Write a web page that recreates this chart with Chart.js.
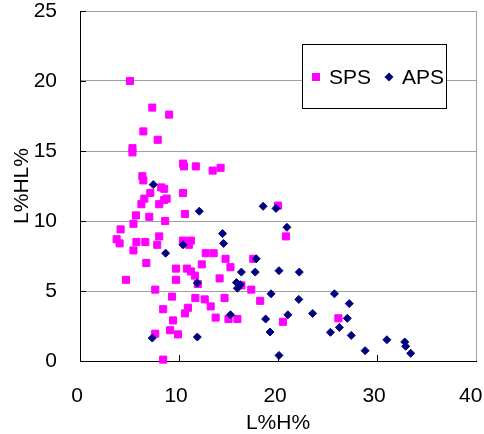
<!DOCTYPE html>
<html><head><meta charset="utf-8">
<script src="https://cdn.jsdelivr.net/npm/chart.js@4/dist/chart.umd.min.js"></script>
<style>html,body{margin:0;padding:0;background:#fff}#wrap{width:484px;height:434px}</style>
</head><body><div id="wrap"><canvas id="c" width="484" height="434"></canvas></div>
<script>
const seriesNames = ["SPS", "APS"];
const spsX = [5.05,7.3,9.0,6.4,7.85,5.3,5.3,10.4,10.5,11.7,13.4,14.2,6.3,6.4,8.2,8.5,7.1,6.5,6.2,8.0,8.5,8.75,10.4,5.65,5.4,7.0,8.6,10.6,4.1,3.7,4.0,5.7,6.6,7.8,8.0,10.4,11.2,11.0,5.4,6.7,12.7,13.5,14.7,17.5,9.7,9.7,10.8,11.2,11.6,12.3,15.2,14.1,11.9,16.3,17.3,4.65,7.6,9.3,11.65,12.6,14.6,18.2,8.4,10.9,10.6,13.2,9.4,13.7,15.0,15.9,20.5,26.1,7.6,9.1,9.9,8.4,20.0,20.8];
const spsY = [20.0,18.1,17.6,16.4,15.8,15.2,14.9,14.1,13.9,13.9,13.6,13.8,13.2,12.9,12.4,12.3,12.0,11.6,11.2,11.2,11.5,11.6,12.0,10.4,9.8,10.3,10.0,10.5,9.4,8.7,8.4,8.5,8.5,8.3,8.9,8.6,8.6,8.3,7.9,7.0,7.7,7.7,7.3,7.3,6.6,5.8,6.6,6.4,6.1,6.9,6.7,5.9,5.5,5.4,5.1,5.8,5.1,4.6,4.5,4.4,4.5,4.3,3.7,3.8,3.4,3.9,2.9,3.1,3.0,3.0,2.8,3.05,1.95,2.2,1.9,0.1,11.1,8.9];
const apsX = [7.4,12.05,18.5,19.8,20.9,14.4,14.5,10.4,8.65,17.8,16.3,17.7,20.1,22.15,11.85,15.8,15.9,16.2,19.3,25.7,22.1,27.2,15.2,21.0,23.5,18.75,27.0,26.2,19.2,25.3,27.4,7.3,11.85,31.0,32.8,32.9,33.4,28.8,20.1];
const apsY = [12.6,10.7,11.05,10.9,9.55,9.1,8.4,8.3,7.7,7.3,6.35,6.35,6.45,6.35,5.57,5.6,5.2,5.45,4.8,4.8,4.4,4.1,3.3,3.3,3.4,3.0,3.05,2.4,2.07,2.05,1.83,1.64,1.71,1.52,1.36,1.05,0.55,0.74,0.4];
const xTicks = [0,10,20,30,40];
const yTicks = [0,5,10,15,20,25];
const xTitle = "L%H%";
const yTitle = "L%HL%";

const FONT = "'Liberation Sans', Arial, sans-serif";
const toPts = (xs, ys) => xs.map((x, i) => ({x, y: ys[i]}));

const extras = {
  id: 'extras',
  afterDraw(chart) {
    const ctx = chart.ctx, xs = chart.scales.x, ys = chart.scales.y;
    ctx.save();
    ctx.strokeStyle = '#000'; ctx.lineWidth = 1;
    ctx.beginPath();
    yTicks.slice(1).forEach(v => { const p = Math.round(ys.getPixelForValue(v)) + 0.5; ctx.moveTo(xs.left, p); ctx.lineTo(xs.left + 6, p); });
    xTicks.slice(1, -1).forEach(v => { const p = Math.round(xs.getPixelForValue(v)) + 0.5; ctx.moveTo(p, ys.bottom); ctx.lineTo(p, ys.bottom - 6); });
    ctx.stroke();
    // legend
    const bx = 302.5, by = 44.5, bw = 144, bh = 64;
    ctx.fillStyle = '#fff'; ctx.fillRect(bx, by, bw, bh);
    ctx.strokeStyle = '#000'; ctx.strokeRect(bx, by, bw, bh);
    const cy = 77;
    const ds = chart.data.datasets;
    ctx.fillStyle = ds[0].backgroundColor; ctx.fillRect(312, cy - 4, 8, 8);
    ctx.fillStyle = ds[1].backgroundColor;
    ctx.beginPath(); ctx.moveTo(389, cy - 4.5); ctx.lineTo(393.5, cy); ctx.lineTo(389, cy + 4.5); ctx.lineTo(384.5, cy); ctx.closePath(); ctx.fill();
    ctx.fillStyle = '#000'; ctx.font = '21px ' + FONT; ctx.textBaseline = 'middle'; ctx.textAlign = 'left';
    ctx.fillText(ds[0].label, 329, cy + 1);
    ctx.fillText(ds[1].label, 402, cy + 1);
    ctx.restore();
  }
};

new Chart(document.getElementById('c'), {
  type: 'scatter',
  data: {
    datasets: [
      { label: seriesNames[0], data: toPts(spsX, spsY), pointStyle: 'rect', pointRadius: 5, borderWidth: 1,
        backgroundColor: '#FF00FF', borderColor: '#FF00FF', order: 1, clip: false },
      { label: seriesNames[1], data: toPts(apsX, apsY), pointStyle: 'rectRot', pointRadius: 4, borderWidth: 1,
        backgroundColor: '#000080', borderColor: '#000080', order: 0, clip: false }
    ]
  },
  options: {
    responsive: false, animation: false, devicePixelRatio: 1,
    layout: { padding: { top: 11, right: 8, left: 0, bottom: 0 } },
    plugins: { legend: { display: false }, tooltip: { enabled: false } },
    scales: {
      x: {
        type: 'linear', min: 0, max: 40,
        afterBuildTicks: s => { s.ticks = xTicks.map(v => ({value: v})); },
        afterFit: s => { s.paddingLeft = 0; s.paddingRight = 0; s.height = 73; },
        ticks: { color: '#000', font: { family: FONT, size: 21 }, padding: 23, maxRotation: 0,
                 callback: v => v === 40 ? String(v) + '\u2002' : String(v) + ' ' },
        grid: { drawTicks: false, color: c => (c.tick && c.tick.value === 40) ? '#A0A0A0' : 'rgba(0,0,0,0)' },
        border: { color: '#000', width: 1 },
        title: { display: true, text: xTitle, color: '#000', font: { family: FONT, size: 21 }, padding: { top: 0, bottom: -2 } }
      },
      y: {
        type: 'linear', min: 0, max: 25,
        afterBuildTicks: s => { s.ticks = yTicks.map(v => ({value: v})); },
        afterFit: s => { s.paddingTop = 0; s.paddingBottom = 0; s.width = 80; },
        ticks: { color: '#000', font: { family: FONT, size: 21 }, padding: 23 },
        grid: { drawTicks: false, color: c => (c.tick && c.tick.value === 0) ? 'rgba(0,0,0,0)' : '#A0A0A0' },
        border: { color: '#000', width: 1 },
        title: { display: true, text: yTitle, color: '#000', font: { family: FONT, size: 21 }, padding: { top: 10, bottom: 0 } }
      }
    }
  },
  plugins: [extras]
});
</script></body></html>
